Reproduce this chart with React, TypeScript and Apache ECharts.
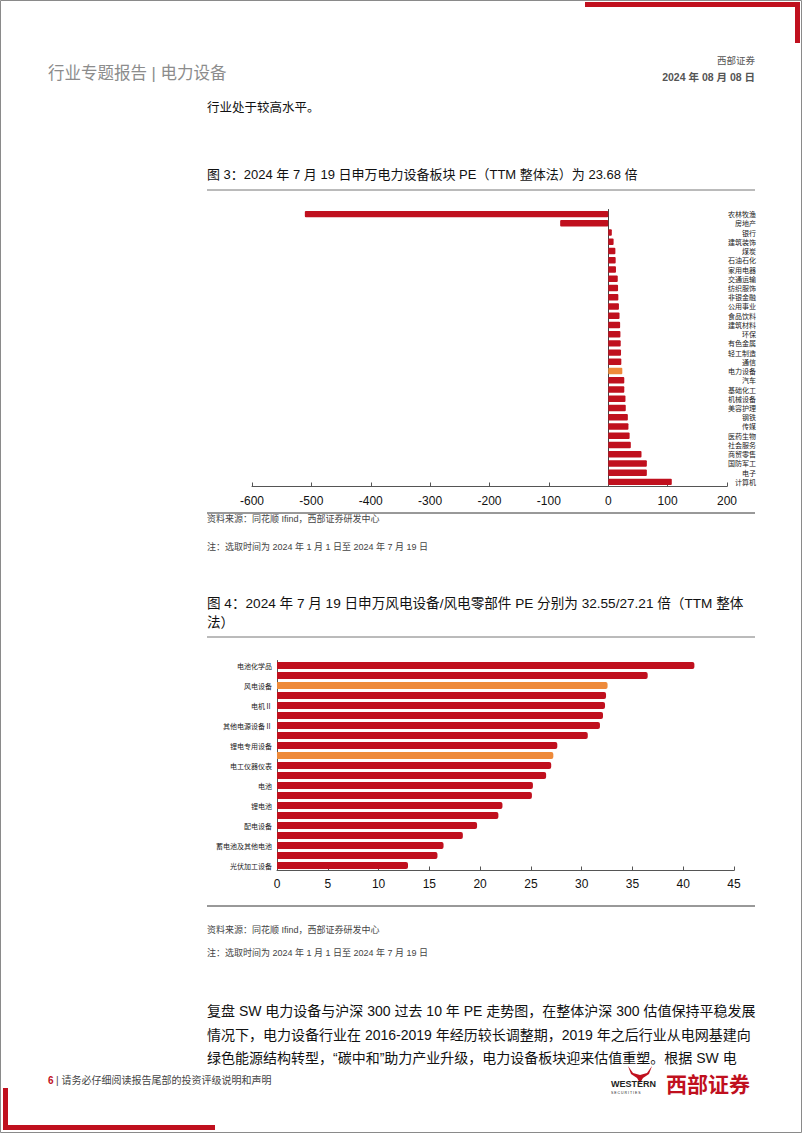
import React, { useEffect, useRef } from "react";
import * as echarts from "echarts";

const industries = ["农林牧渔","房地产","银行","建筑装饰","煤炭","石油石化","家用电器","交通运输","纺织服饰","非银金融","公用事业","食品饮料","建筑材料","环保","有色金属","轻工制造","通信","电力设备","汽车","基础化工","机械设备","美容护理","钢铁","传媒","医药生物","社会服务","商贸零售","国防军工","电子","计算机"];
const industryPE = [-511,-81,6,9,12,12.5,13,16,16.5,17,18,19,20,20.5,21,21.5,22,23.68,27,27,29,29.5,33,34,36,38,56,65,65,107];
const highlight1 = "电力设备";
const xTicks1 = [-600, 200, 100];

const subs = ["电池化学品","输变电设备","风电设备","电机Ⅲ","电机Ⅱ","电网自动化设备","其他电源设备Ⅱ","其他电源设备Ⅲ","锂电专用设备","风电零部件","电工仪器仪表","电网设备","电池","线缆部件及其他","锂电池","光伏设备","配电设备","逆变器","蓄电池及其他电池","光伏电池组件","光伏加工设备"];
const subPE = [41.1,36.5,32.55,32.4,32.3,32.1,31.8,30.6,27.6,27.21,27.0,26.5,25.2,25.1,22.2,21.8,19.7,18.3,16.4,15.8,12.9];
const highlight2 = ["风电设备","风电零部件"];
const xTicks2 = [0, 45, 5];

const RED = "#C0101E";
const ORANGE = "#EE8A3A";
const CJK = "'Noto Sans CJK SC', sans-serif";
const LAT = "'Liberation Sans', 'Noto Sans CJK SC', sans-serif";

export default function App() {
  const ref = useRef<HTMLDivElement>(null);
  useEffect(() => {
    const chart = echarts.init(ref.current!, null, { renderer: "svg" });
    const txt = (x: number, y: number, text: string, size: number, color: string, extra: any = {}) => ({
      type: "text", x, y,
      style: { text, fontSize: size, fill: color, fontFamily: LAT, textVerticalAlign: "middle", ...extra },
    });
    const rect = (x: number, y: number, w: number, h: number, fill: string) => ({
      type: "rect", shape: { x, y, width: w, height: h }, style: { fill },
    });
    const hline = (x1: number, x2: number, y: number, color = "#666", w = 1) => ({
      type: "line", shape: { x1, y1: y, x2, y2: y }, style: { stroke: color, lineWidth: w },
    });
    const graphic: any[] = [
      { type: "rect", shape: { x: 0.5, y: 0.5, width: 801, height: 1132 }, style: { fill: "none", stroke: "#8a8a8a", lineWidth: 1 } },
      rect(585, 2, 215, 5, RED),
      rect(795, 2, 5, 41, RED),
      rect(3, 1088, 5, 42, RED),
      rect(3, 1125, 212, 5, RED),
      txt(48, 73, "行业专题报告 | 电力设备", 16.5, "#8c8c8c"),
      txt(755, 60, "西部证券", 9.5, "#555", { textAlign: "right" }),
      txt(755, 77, "2024 年 08 月 08 日", 10.5, "#555", { textAlign: "right", fontWeight: "bold" }),
      txt(207, 108, "行业处于较高水平。", 12.5, "#111"),
      txt(207, 174, "图 3：2024 年 7 月 19 日申万电力设备板块 PE（TTM 整体法）为 23.68 倍", 13, "#111"),
      hline(207, 755, 190, "#777"),
      hline(207, 755, 513, "#333"),
      txt(207, 519, "资料来源：同花顺 Ifind，西部证券研发中心", 9, "#444"),
      txt(207, 547, "注：选取时间为 2024 年 1 月 1 日至 2024 年 7 月 19 日", 9, "#444"),
      txt(207, 603, "图 4：2024 年 7 月 19 日申万风电设备/风电零部件 PE 分别为 32.55/27.21 倍（TTM 整体", 13.6, "#111"),
      txt(207, 622, "法）", 13.6, "#111"),
      hline(207, 755, 637, "#777"),
      hline(207, 755, 906, "#333"),
      txt(207, 930, "资料来源：同花顺 Ifind，西部证券研发中心", 9, "#444"),
      txt(207, 953, "注：选取时间为 2024 年 1 月 1 日至 2024 年 7 月 19 日", 9, "#444"),
      txt(207, 1011, "复盘 SW 电力设备与沪深 300 过去 10 年 PE 走势图，在整体沪深 300 估值保持平稳发展", 14, "#111"),
      txt(207, 1035, "情况下，电力设备行业在 2016-2019 年经历较长调整期，2019 年之后行业从电网基建向", 14, "#111"),
      txt(207, 1058, "绿色能源结构转型，“碳中和”助力产业升级，电力设备板块迎来估值重塑。根据 SW 电", 14, "#111"),
      txt(48, 1080, "6", 10, RED, { fontWeight: "bold" }),
      txt(56, 1080, "| 请务必仔细阅读报告尾部的投资评级说明和声明", 10, "#444"),
      { type: "polygon", shape: { points: [[628, 1066], [633, 1073], [640, 1075], [647, 1073], [652, 1066], [649, 1074], [643, 1078], [640, 1083], [637, 1078], [631, 1074]] }, style: { fill: RED } },
      txt(611, 1084, "WESTERN", 9, "#222", { fontWeight: "bold" }),
      txt(611, 1093, "S E C U R I T I E S", 3.5, "#222"),
      txt(666, 1083, "西部证券", 21, RED, { fontWeight: "bold", fontFamily: CJK }),
    ];

    const data1 = industryPE.map((v, i) => industries[i] === highlight1 ? { value: v, itemStyle: { color: ORANGE } } : v);
    const data2 = subPE.map((v, i) => highlight2.includes(subs[i]) ? { value: v, itemStyle: { color: ORANGE } } : v);

    chart.setOption({
      animation: false,
      backgroundColor: "#fff",
      textStyle: { fontFamily: LAT },
      graphic,
      grid: [
        { left: 252, top: 209.5, width: 475, height: 277 },
        { left: 277, top: 660.5, width: 457, height: 210 },
      ],
      xAxis: [
        {
          gridIndex: 0, type: "value", min: xTicks1[0], max: xTicks1[1], interval: xTicks1[2],
          axisLine: { show: true, lineStyle: { color: "#555" } },
          axisTick: { show: true, inside: true, length: 4, lineStyle: { color: "#555" } },
          splitLine: { show: false },
          axisLabel: { color: "#111", fontSize: 12, margin: 8, fontFamily: LAT },
        },
        {
          gridIndex: 1, type: "value", min: xTicks2[0], max: xTicks2[1], interval: xTicks2[2],
          axisLine: { show: true, lineStyle: { color: "#555" } },
          axisTick: { show: true, inside: true, length: 4, lineStyle: { color: "#555" } },
          splitLine: { show: false },
          axisLabel: { color: "#111", fontSize: 12, margin: 7, fontFamily: LAT },
        },
      ],
      yAxis: [
        {
          gridIndex: 0, type: "category", inverse: true, data: industries,
          axisLine: { show: true, onZero: true, lineStyle: { color: "#444" } },
          axisTick: { show: false }, axisLabel: { show: false },
        },
        {
          gridIndex: 0, type: "category", inverse: true, data: industries, position: "right",
          axisLine: { show: false, onZero: false }, axisTick: { show: false },
          axisLabel: { show: true, interval: 0, align: "right", margin: 29, fontSize: 7, color: "#222", fontFamily: CJK },
        },
        {
          gridIndex: 1, type: "category", inverse: true, data: subs,
          axisLine: { show: true, lineStyle: { color: "#555" } },
          axisTick: { show: false },
          axisLabel: { show: true, interval: 1, margin: 5, fontSize: 7, color: "#222", fontFamily: CJK },
        },
      ],
      series: [
        {
          type: "bar", xAxisIndex: 0, yAxisIndex: 0, data: data1, barCategoryGap: "30%",
          itemStyle: { color: RED, borderRadius: 1 },
        },
        {
          type: "bar", xAxisIndex: 1, yAxisIndex: 2, data: data2, barCategoryGap: "30%",
          itemStyle: { color: RED, borderRadius: [0, 2, 2, 0] },
        },
      ],
    });
    return () => chart.dispose();
  }, []);
  return <div ref={ref} style={{ position: "absolute", left: 0, top: 0, width: 802, height: 1133 }} />;
}
